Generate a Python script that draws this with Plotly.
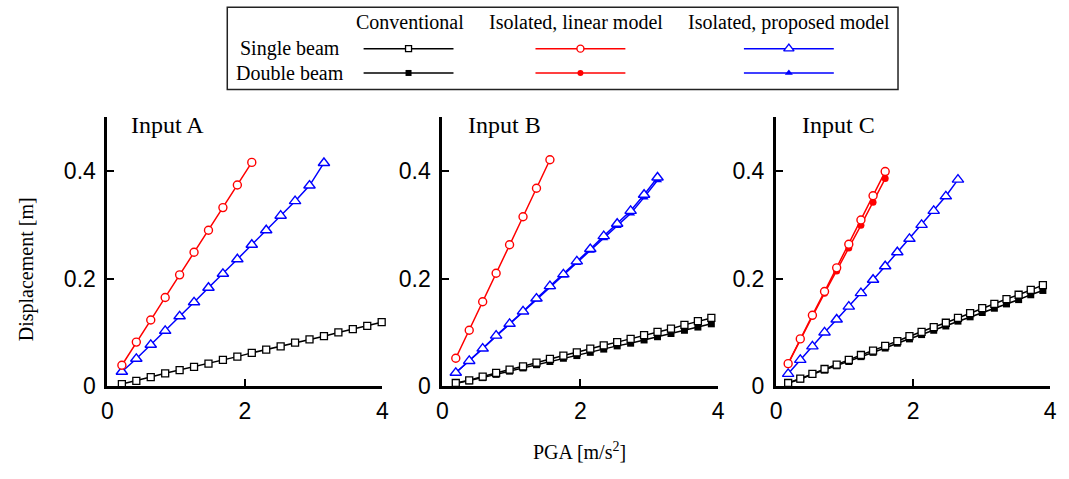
import plotly.graph_objects as go

W, H = 1069, 479


def px(x):
    return x / W


def py(y):
    return 1 - y / H


# ---------------- data ----------------
xA = [0.21, 0.42, 0.63, 0.84, 1.05, 1.26, 1.47, 1.68, 1.89, 2.10,
      2.31, 2.52, 2.73, 2.94, 3.15, 3.36, 3.57, 3.78, 3.99]
A_lin_single = [0.039, 0.082, 0.123, 0.165, 0.207, 0.249, 0.290, 0.332, 0.374, 0.416]
A_prop_single = [0.027, 0.051, 0.077, 0.103, 0.130, 0.156, 0.183, 0.209, 0.236, 0.263,
                 0.290, 0.317, 0.344, 0.373, 0.415]
A_conv_single = [0.004, 0.010, 0.017, 0.024, 0.030, 0.036, 0.042, 0.049, 0.055, 0.062,
                 0.068, 0.074, 0.081, 0.087, 0.093, 0.100, 0.106, 0.112, 0.119]

xB = [0.195, 0.39, 0.585, 0.78, 0.975, 1.17, 1.365, 1.56, 1.755, 1.95,
      2.145, 2.34, 2.535, 2.73, 2.925, 3.12, 3.315, 3.51, 3.705, 3.90]
B_lin_single = [0.052, 0.104, 0.157, 0.210, 0.263, 0.315, 0.368, 0.421]
B_prop_single = [0.025, 0.047, 0.070, 0.094, 0.116, 0.139, 0.163, 0.186, 0.208, 0.232,
                 0.255, 0.279, 0.302, 0.326, 0.356, 0.388]
B_prop_double = [0.025, 0.047, 0.070, 0.093, 0.115, 0.138, 0.161, 0.184, 0.206, 0.229,
                 0.252, 0.275, 0.298, 0.321, 0.351, 0.383]
B_conv_single = [0.006, 0.011, 0.018, 0.025, 0.031, 0.037, 0.044, 0.051, 0.057, 0.063,
                 0.070, 0.076, 0.082, 0.088, 0.095, 0.101, 0.107, 0.114, 0.121, 0.127]
B_conv_double = [0.005, 0.010, 0.016, 0.022, 0.028, 0.034, 0.040, 0.046, 0.052, 0.057,
                 0.063, 0.069, 0.075, 0.080, 0.086, 0.092, 0.098, 0.104, 0.110, 0.116]

xC = [0.177, 0.354, 0.531, 0.708, 0.885, 1.062, 1.239, 1.416, 1.593, 1.77, 1.947,
      2.124, 2.301, 2.478, 2.655, 2.832, 3.009, 3.186, 3.363, 3.54, 3.717, 3.894]
C_lin_single = [0.042, 0.088, 0.132, 0.176, 0.220, 0.264, 0.309, 0.354, 0.399]
C_lin_double = [0.042, 0.087, 0.130, 0.173, 0.214, 0.257, 0.299, 0.342, 0.386]
C_prop_single = [0.023, 0.049, 0.074, 0.100, 0.124, 0.148, 0.173, 0.198, 0.223, 0.249,
                 0.274, 0.300, 0.326, 0.353, 0.384]
C_conv_single = [0.006, 0.014, 0.023, 0.032, 0.040, 0.049, 0.058, 0.066, 0.075, 0.084, 0.093,
                 0.101, 0.110, 0.118, 0.127, 0.136, 0.145, 0.153, 0.162, 0.170, 0.179, 0.188]
C_conv_double = [0.006, 0.013, 0.022, 0.030, 0.038, 0.046, 0.055, 0.063, 0.071, 0.080, 0.088,
                 0.096, 0.104, 0.112, 0.121, 0.129, 0.137, 0.145, 0.153, 0.161, 0.170, 0.178]

panel_titles = ["Input A", "Input B", "Input C"]
x_ticks = [0, 2, 4]
y_ticks = [0, 0.2, 0.4]
y_ticktext = ["0", "0.2", "0.4"]
row_labels = ["Single beam", "Double beam"]
col_labels = ["Conventional", "Isolated, linear model", "Isolated, proposed model"]

# ---------------- styles ----------------
BLACK, RED, BLUE = "#000000", "#ff0000", "#0000ff"
styles = {
    ("conv", "single"): dict(symbol="square", size=7, color="white", line=dict(color=BLACK, width=1.3)),
    ("conv", "double"): dict(symbol="square", size=7, color=BLACK, line=dict(color=BLACK, width=0)),
    ("lin", "single"): dict(symbol="circle", size=8, color="white", line=dict(color=RED, width=1.4)),
    ("lin", "double"): dict(symbol="circle", size=7, color=RED, line=dict(color=RED, width=0)),
    ("prop", "single"): dict(symbol="triangle-up", size=10, color="white", line=dict(color=BLUE, width=1.4)),
    ("prop", "double"): dict(symbol="triangle-up", size=8, color=BLUE, line=dict(color=BLUE, width=0)),
}
line_col = {"conv": BLACK, "lin": RED, "prop": BLUE}

panels = [
    (xA, [("conv", "single", A_conv_single),
          ("prop", "single", A_prop_single),
          ("lin", "single", A_lin_single)]),
    (xB, [("conv", "double", B_conv_double), ("conv", "single", B_conv_single),
          ("prop", "double", B_prop_double), ("prop", "single", B_prop_single),
          ("lin", "single", B_lin_single)]),
    (xC, [("conv", "double", C_conv_double), ("conv", "single", C_conv_single),
          ("prop", "single", C_prop_single),
          ("lin", "double", C_lin_double), ("lin", "single", C_lin_single)]),
]

fig = go.Figure()
for i, (xs, series) in enumerate(panels, start=1):
    for kind, beam, ys in series:
        fig.add_trace(go.Scatter(
            x=xs[:len(ys)], y=ys, mode="lines+markers",
            line=dict(color=line_col[kind], width=1.5),
            marker=styles[(kind, beam)],
            xaxis=f"x{i}", yaxis=f"y{i}", showlegend=False, cliponaxis=False,
        ))

# ---------------- layout / axes ----------------
x_doms = [(102.7, 381.0), (441.7, 721.0), (779.5, 1057.0)]
y_dom = (py(397.0), py(120.5))
tick_font = dict(family="Liberation Sans, Arial, sans-serif", size=23, color="black")
layout = dict(
    width=W, height=H, margin=dict(l=0, r=0, t=0, b=0),
    paper_bgcolor="white", plot_bgcolor="rgba(0,0,0,0)", showlegend=False,
)
for i, (x0, x1) in enumerate(x_doms, start=1):
    layout[f"xaxis{i}"] = dict(
        domain=[px(x0), px(x1)], range=[0, 4], anchor=f"y{i}",
        showline=True, linecolor="black", linewidth=3, mirror=False,
        ticks="inside", ticklen=7, tickwidth=2, tickcolor="black",
        tickvals=x_ticks, tickfont=tick_font, showgrid=False, zeroline=False,
        ticklabelstandoff=2,
    )
    layout[f"yaxis{i}"] = dict(
        domain=list(y_dom), range=[0, 0.5], anchor=f"x{i}",
        showline=True, linecolor="black", linewidth=3,
        ticks="inside", ticklen=7, tickwidth=2, tickcolor="black",
        tickvals=y_ticks, ticktext=y_ticktext, tickfont=tick_font,
        showgrid=False, zeroline=False, ticklabelstandoff=4,
    )
# overlay axes in window-pixel units for the legend samples
layout["xaxis4"] = dict(domain=[0, 1], range=[0, W], visible=False, anchor="y4", fixedrange=True)
layout["yaxis4"] = dict(domain=[0, 1], range=[H, 0], visible=False, anchor="x4", fixedrange=True)
fig.update_layout(**layout)

# ---------------- manual legend ----------------
serif = "Liberation Serif, Times New Roman, serif"
leg_cols = [("conv", 362, 453), ("lin", 536, 627), ("prop", 747, 838)]
leg_rows = [("single", 50), ("double", 75)]
for kind, lx0, lx1 in leg_cols:
    for beam, ly in leg_rows:
        fig.add_trace(go.Scatter(x=[lx0, lx1], y=[ly, ly], mode="lines",
                                 line=dict(color=line_col[kind], width=1.5),
                                 xaxis="x4", yaxis="y4", showlegend=False, hoverinfo="skip"))
        st = dict(styles[(kind, beam)])
        st["size"] = st["size"] - 1
        fig.add_trace(go.Scatter(x=[(lx0 + lx1) / 2], y=[ly], mode="markers", marker=st,
                                 xaxis="x4", yaxis="y4", showlegend=False, hoverinfo="skip",
                                 cliponaxis=False))

fig.add_shape(type="rect", xref="paper", yref="paper",
              x0=px(224), x1=px(903), y0=py(92), y1=py(7.5),
              line=dict(color="#222222", width=1.5), fillcolor="rgba(0,0,0,0)")

annots = []
for text, cx in zip(col_labels, [409, 577, 793]):
    annots.append(dict(text=text, x=px(cx), y=py(23), xref="paper", yref="paper",
                       showarrow=False, xanchor="center", yanchor="middle",
                       font=dict(family=serif, size=20, color="black")))
for text, cy in zip(row_labels, [50, 75]):
    annots.append(dict(text=text, x=px(288), y=py(cy), xref="paper", yref="paper",
                       showarrow=False, xanchor="center", yanchor="middle",
                       font=dict(family=serif, size=20, color="black")))
for text, lx in zip(panel_titles, [125, 466, 804]):
    annots.append(dict(text=text, x=px(lx), y=py(128), xref="paper", yref="paper",
                       showarrow=False, xanchor="left", yanchor="middle",
                       font=dict(family=serif, size=24, color="black")))
annots.append(dict(text="Displacement [m]", x=px(21), y=py(277), xref="paper", yref="paper",
                   showarrow=False, textangle=-90, xanchor="center", yanchor="middle",
                   font=dict(family=serif, size=20, color="black")))
annots.append(dict(text="PGA [m/s<sup>2</sup>]", x=px(581), y=py(464), xref="paper", yref="paper",
                   showarrow=False, xanchor="center", yanchor="middle",
                   font=dict(family=serif, size=20, color="black")))
fig.update_layout(annotations=annots)

# remove the page's default body margin so the figure fills the window exactly
fig.write_html(
    "out.html",
    config={"displayModeBar": False},
    post_script="document.body.style.margin='0';document.body.style.overflow='hidden';",
)
